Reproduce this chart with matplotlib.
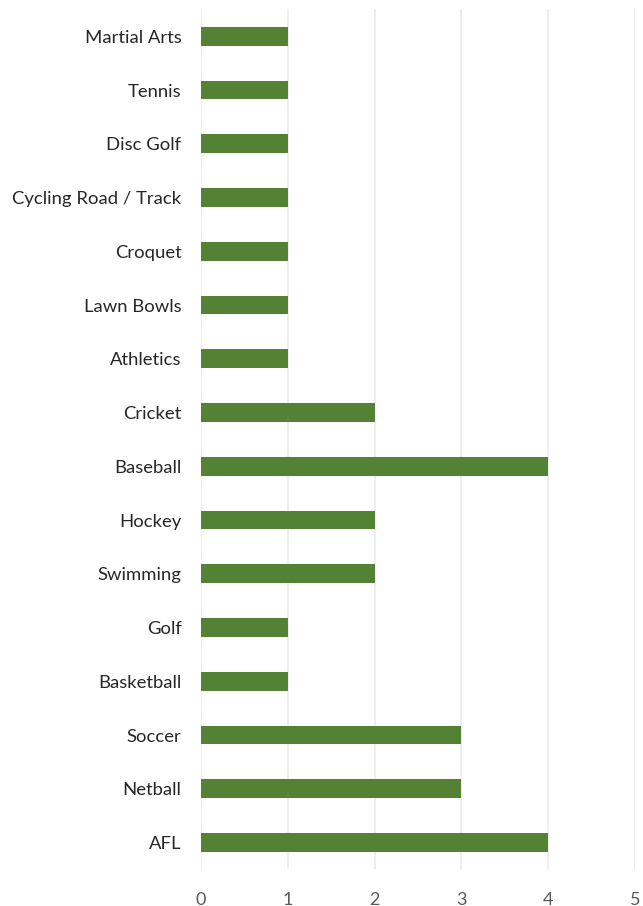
import matplotlib
matplotlib.use('Agg')
import matplotlib.pyplot as plt

# sports, listed bottom to top as drawn
sports = ['AFL', 'Netball', 'Soccer', 'Basketball', 'Golf', 'Swimming', 'Hockey',
          'Baseball', 'Cricket', 'Athletics', 'Lawn Bowls', 'Croquet',
          'Cycling Road / Track', 'Disc Golf', 'Tennis', 'Martial Arts']
counts = [4, 3, 3, 1, 1, 2, 2, 4, 2, 1, 1, 1, 1, 1, 1, 1]
xticks = [0, 1, 2, 3, 4, 5]

plt.rcParams['font.family'] = ['Lato', 'DejaVu Sans']

fig = plt.figure(figsize=(6.43, 9.06), dpi=100)
ax = fig.add_axes([0.3126, 0.0404, 0.675, 0.9492])

ax.barh(range(len(sports)), counts, height=0.35, color='#548235', zorder=3)

ax.set_xlim(0, 5)
ax.set_ylim(-0.5, len(sports) - 0.5)
ax.set_xticks(xticks)
ax.set_yticks(range(len(sports)))
ax.set_yticklabels(sports, fontsize=13.3, color='#262626')
ax.set_xticklabels([str(t) for t in xticks], fontsize=13, color='#595959')
ax.tick_params(axis='both', length=0)
ax.tick_params(axis='y', pad=14)
ax.tick_params(axis='x', pad=16)

ax.grid(axis='x', color='#ebebeb', linewidth=1.2, zorder=0)
for side in ax.spines.values():
    side.set_visible(False)

fig.savefig('out.png', dpi=100)
